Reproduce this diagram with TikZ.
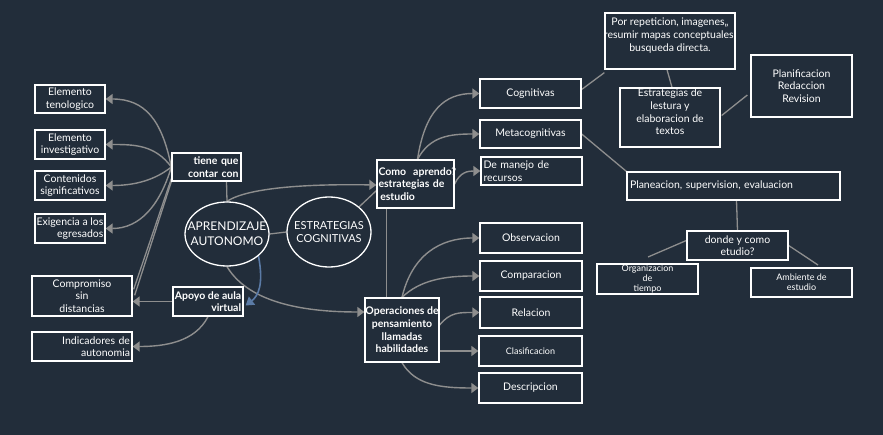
\documentclass[tikz,border=0pt]{standalone}
\usepackage{fontspec}
\setmainfont{Lato}
\usetikzlibrary{arrows.meta,calc,shapes.geometric}
\definecolor{bg}{HTML}{222D3A}
\definecolor{conn}{HTML}{8E8E8E}
\definecolor{bluec}{HTML}{5B7BA6}
\newcommand\fsnorm{\fontsize{10.5}{12.6}\selectfont}
\newcommand\fsbig{\fontsize{12}{14.5}\selectfont}
\newcommand\fssmall{\fontsize{9}{10}\selectfont}
\pgfdeclarelayer{background}
\pgfsetlayers{background,main}
\begin{document}
\begin{tikzpicture}[x=1pt,y=-1pt,
  box/.style 2 args={draw=white, line width=1.3pt, fill=bg, text=white, inner sep=0pt,
    font=\fsnorm, align=center, minimum width=#1, minimum height=#2},
  ell/.style={ellipse, draw=white, line width=1.3pt, fill=bg, inner sep=0pt},
  txt/.style={text=white, inner sep=0pt, align=center, font=\fsnorm},
  arr/.style={draw=conn, line width=1.4pt, -{Triangle[length=7pt,width=10pt]}},
  ln/.style={draw=conn, line width=1.3pt},
  barr/.style={draw=bluec, line width=1.6pt, -{Triangle[length=8pt,width=10pt]}}]
\begin{pgfonlayer}{background}
\fill[bg] (0,0) rectangle (883,435);
\end{pgfonlayer}
\useasboundingbox (0,0) rectangle (883,435);

% left column
\node[box={70}{28}] (el1) at (70,99) {Elemento\\tenologico};
\node[box={70}{29}] (el2) at (70,144.5) {Elemento\\investigativo};
\node[box={70}{29}] (el3) at (70,185.5) {Contenidos\\significativos};
\node[box={70}{29}, align=right] (el4) at (70,228.5) {Exigencia a los\\egresados};
\node[box={100}{40}] (comp) at (82,296) {Compromiso\\sin\\distancias};
\node[box={100}{29}, text width=96pt, align=right] (indic) at (82,346.5) {Indicadores de\\autonomia};

% centre
\node[box={69}{28}, font=\fsnorm\bfseries, text width=64pt, align=right] (tiene) at (206.5,167) {tiene que\\contar con};
\node[box={70}{29}, font=\fsnorm\bfseries, align=right] (apoyo) at (208,301.5) {Apoyo de aula\\virtual};
\node[ell, minimum width=84pt, minimum height=64pt] (aprend) at (227,234) {};
\node[txt, font=\fsbig] (aprendT) at (aprend.center) {APRENDIZAJE\\AUTONOMO};
\node[ell, minimum width=84pt, minimum height=70pt] (estr) at (329,232) {};
\node[txt, font=\fontsize{11}{13.5}\selectfont] (estrT) at (estr.center) {ESTRATEGIAS\\COGNITIVAS};
\node[box={77}{48}, font=\fsnorm\bfseries, text width=74pt, align=left] (como) at (415.5,184) {Como~ aprendo?\\estrategias de\\ \,estudio};
\node[box={74}{64}, font=\fsnorm\bfseries] (oper) at (402,330) {Operaciones de\\pensamiento\\llamadas\\habilidades};

% right upper
\node[box={101}{29}] (cog) at (530.5,93.5) {Cognitivas};
\node[box={101}{28}] (meta) at (530.5,134) {Metacognitivas};
\node[box={101}{28}, text width=96pt, align=left] (manejo) at (531.5,171) {De manejo de\\recursos};
\node[box={130}{56}] (porrep) at (670,41) {};
\node[txt] (porrepT) at (670,35.5) {Por repeticion, imagenes,,\\resumir mapas conceptuales,\\busqueda directa.};
\node[box={100}{59}] (lestura) at (670,117.5) {};
\node[txt] (lesturaT) at (670,112) {Estrategias de\\lestura y\\elaboracion de\\textos};
\node[box={101}{62}] (planif) at (801.5,86) {Planificacion\\Redaccion\\Revision};
\node[box={213}{28}, text width=207pt, align=left] (planea) at (733.5,186) {Planeacion, supervision, evaluacion};
\node[box={101}{29}] (donde) at (737.5,245.5) {donde y como\\etudio?};
\node[box={101}{30}, font=\fssmall] (organ) at (647.5,279) {Organizacion\\de\\tiempo};
\node[box={101}{29}, font=\fssmall] (ambiente) at (801.5,282.5) {Ambiente de\\estudio};
\coordinate (freeL) at (648,257);
\coordinate (freeR) at (818,265);

% right lower
\node[box={102}{30}] (obs) at (531,238) {Observacion};
\node[box={102}{30}] (compar) at (531,276) {Comparacion};
\node[box={102}{31}] (rel) at (531,312.5) {Relacion};
\node[box={103}{30}, font=\fssmall] (clas) at (530.5,351) {Clasificacion};
\node[box={103}{30}] (desc) at (530.5,388) {Descripcion};

\begin{pgfonlayer}{background}
% tiene que contar con
\draw[arr] (tiene.west) .. controls (162,120) and (145,99) .. (el1.east);
\draw[arr] (tiene.west) .. controls (155,145) and (135,144.5) .. (el2.east);
\draw[arr] (tiene.west) .. controls (155,180) and (135,185.5) .. (el3.east);
\draw[arr] (tiene.west) .. controls (160,205) and (140,228.5) .. (el4.east);
\draw[ln] ($(tiene.south west)+(0,-3)$) -- ($(comp.north east)+(1,14)$);
\draw[ln] (tiene.south west) -- ($(comp.north east)+(2,20)$);
\draw[ln] ($(tiene.south)+(20,0)$) -- (aprend.north);
% aprendizaje
\draw[arr] (aprend.north) .. controls (250,186) and (320,184) .. ($(como.west)+(0,1)$);
\draw[ln] (aprend.east) -- (estr.west);
\draw[ln] (estr.north east) -- ($(como.south west)+(0,-18)$);
\draw[arr] (aprend.south) .. controls (250,305) and (310,312) .. ($(oper.west)+(0,-18)$);
\draw[barr] (aprend.-35) .. controls (264,285) and (258,296) .. ($(apoyo.east)+(2,4)$);
\draw[ln] ($(como.south west)+(10,-8)$) -- ($(oper.north west)+(22,0)$);
% apoyo
\draw[arr] (apoyo.west) -- (apoyo.west -| comp.east);
\draw[arr] (apoyo.south) .. controls (195,342) and (165,346.5) .. (indic.east);
% como aprendo
\draw[arr] ($(como.north)+(2,0)$) .. controls (425,110) and (445,93.5) .. (cog.west);
\draw[arr] ($(como.north)+(2,0)$) .. controls (430,136) and (450,134) .. (meta.west);
\draw[arr] (como.east) .. controls (460,172) and (468,171) .. (manejo.west);
\draw[ln] ($(cog.east)+(0,-4)$) -- ($(porrep.south west)+(0,3)$);
\draw[ln] (meta.east) -- (planea.north west);
\draw[ln] ($(porrep.south)+(-3,0)$) -- ($(lestura.north)+(2,0)$);
\draw[ln] ($(lestura.east)+(1,-2)$) -- ($(planif.west)+(-3,9)$);
\draw[ln] ($(planea.south)+(3,0)$) -- (donde.north);
\draw[ln] ($(donde.west)+(0,-5)$) -- (freeL);
\draw[ln] (donde.east) -- (freeR);
% operaciones
\draw[arr] (oper.north) .. controls (412,255) and (440,238) .. (obs.west);
\draw[arr] (oper.north) .. controls (420,280) and (445,276) .. (compar.west);
\draw[arr] ($(oper.east)+(0,-5)$) .. controls (450,312) and (460,312.5) .. (rel.west);
\draw[arr] (oper.east |- clas.west) -- (clas.west);
\draw[arr] (oper.south) .. controls (415,385) and (440,388) .. (desc.west);
\end{pgfonlayer}
\end{tikzpicture}
\end{document}
